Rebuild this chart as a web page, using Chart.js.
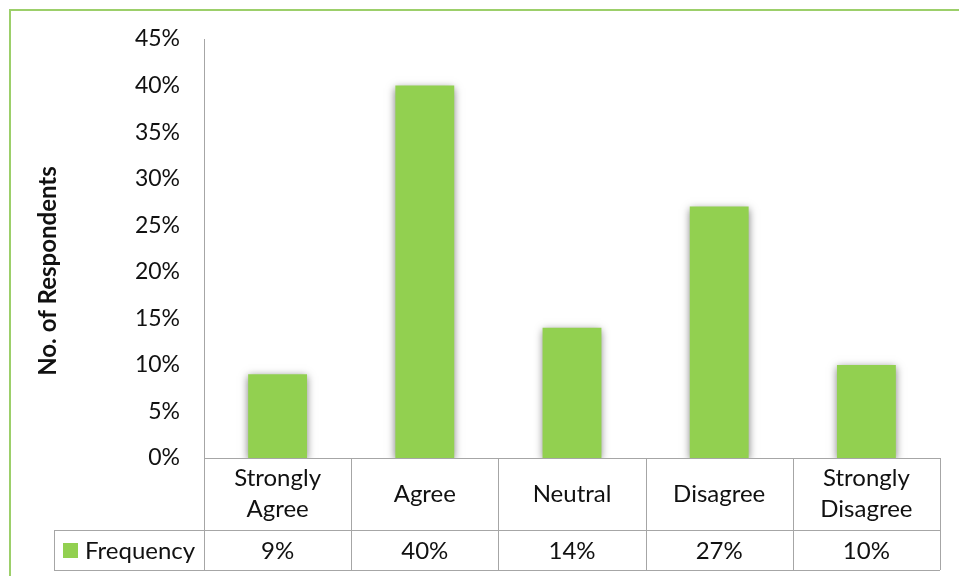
<!DOCTYPE html>
<html>
<head>
<meta charset="utf-8">
<script src="https://cdn.jsdelivr.net/npm/chart.js@4"></script>
<style>
  html, body { margin: 0; padding: 0; background: #fff; }
  #wrap { width: 959px; height: 576px; position: relative; }
</style>
</head>
<body>
<div id="wrap"><canvas id="surveyChart"></canvas></div>
<script>
// survey answers
const categories = [['Strongly', 'Agree'], ['Agree'], ['Neutral'], ['Disagree'], ['Strongly', 'Disagree']];
const frequency = [9, 40, 14, 27, 10];
const seriesName = 'Frequency';
const axisTitle = 'No. of Respondents';

const barGreen = '#92D050';
const lineGrey = '#A6A6A6';
const font = 'Lato, "Open Sans", sans-serif';

// frame, y title and the data table under the bars
const tablePlugin = {
    id: 'dataTable',
    beforeDraw(chart) {
        const c = chart.ctx;
        c.save();
        c.strokeStyle = '#9CCF6A';
        c.lineWidth = 2;
        c.beginPath();
        c.moveTo(10, chart.height);
        c.lineTo(10, 10);
        c.lineTo(chart.width, 10);
        c.stroke();
        c.restore();
    },
    beforeDatasetsDraw(chart) {
        const c = chart.ctx;
        c.save();
        c.shadowColor = 'rgba(0,0,0,0.5)';
        c.shadowBlur = 8;
        c.shadowOffsetX = 0;
        c.shadowOffsetY = 2;
    },
    afterDatasetsDraw(chart) {
        chart.ctx.restore();
    },
    afterDraw(chart) {
        const c = chart.ctx;
        const area = chart.chartArea;
        const x = chart.scales.x;
        const n = categories.length;
        const colW = (area.right - area.left) / n;
        const top = area.bottom;
        const mid = top + 72;
        const bottom = mid + 40;
        const keyLeft = 54;

        c.save();
        c.strokeStyle = lineGrey;
        c.lineWidth = 1;
        c.beginPath();
        // horizontal rules
        c.moveTo(area.left, top + 0.5); c.lineTo(area.right, top + 0.5);
        c.moveTo(keyLeft, mid + 0.5); c.lineTo(area.right, mid + 0.5);
        c.moveTo(keyLeft, bottom + 0.5); c.lineTo(area.right, bottom + 0.5);
        // vertical rules
        c.moveTo(keyLeft + 0.5, mid); c.lineTo(keyLeft + 0.5, bottom);
        for (let i = 0; i <= n; i++) {
            const lx = Math.round(area.left + i * colW) + 0.5;
            c.moveTo(lx, top); c.lineTo(lx, bottom);
        }
        c.stroke();

        c.fillStyle = '#111';
        c.font = '24px ' + font;
        c.textAlign = 'center';
        c.textBaseline = 'middle';
        categories.forEach((lines, i) => {
            const cx = x.getPixelForValue(i);
            const cy = (top + mid) / 2;
            const lh = 31;
            lines.forEach((t, j) => {
                c.fillText(t, cx, cy + (j - (lines.length - 1) / 2) * lh);
            });
            c.fillText(frequency[i] + '%', cx, (mid + bottom) / 2 + 1);
        });

        // legend key + series name
        c.fillStyle = barGreen;
        c.fillRect(63, mid + 13, 15, 15);
        c.fillStyle = '#111';
        c.textAlign = 'left';
        c.fillText(seriesName, 85, (mid + bottom) / 2 + 1);

        // rotated axis title
        c.translate(48, 271);
        c.rotate(-Math.PI / 2);
        c.textAlign = 'center';
        c.font = 'bold 24px ' + font;
        c.fillText(axisTitle, 0, 0);
        c.restore();
    }
};

new Chart(document.getElementById('surveyChart'), {
    type: 'bar',
    data: {
        labels: categories,
        datasets: [{
            label: seriesName,
            data: frequency,
            backgroundColor: barGreen,
            borderWidth: 0,
            barPercentage: 0.4,
            categoryPercentage: 1.0
        }]
    },
    options: {
        responsive: true,
        maintainAspectRatio: false,
        animation: false,
        layout: { padding: { left: 30, right: 19, top: 39, bottom: 118 } },
        plugins: {
            legend: { display: false },
            tooltip: { enabled: false }
        },
        scales: {
            x: {
                grid: { display: false, drawTicks: false },
                ticks: { display: false },
                border: { display: true, color: lineGrey, width: 1 }
            },
            y: {
                min: 0,
                max: 45,
                afterFit(scale) { scale.width = 174; },
                grid: { display: false, drawTicks: false },
                border: { display: true, color: lineGrey, width: 1 },
                ticks: {
                    stepSize: 5,
                    padding: 24,
                    color: '#111',
                    font: { family: font, size: 23 },
                    callback: v => v + '%'
                }
            }
        }
    },
    plugins: [tablePlugin]
});
</script>
</body>
</html>
